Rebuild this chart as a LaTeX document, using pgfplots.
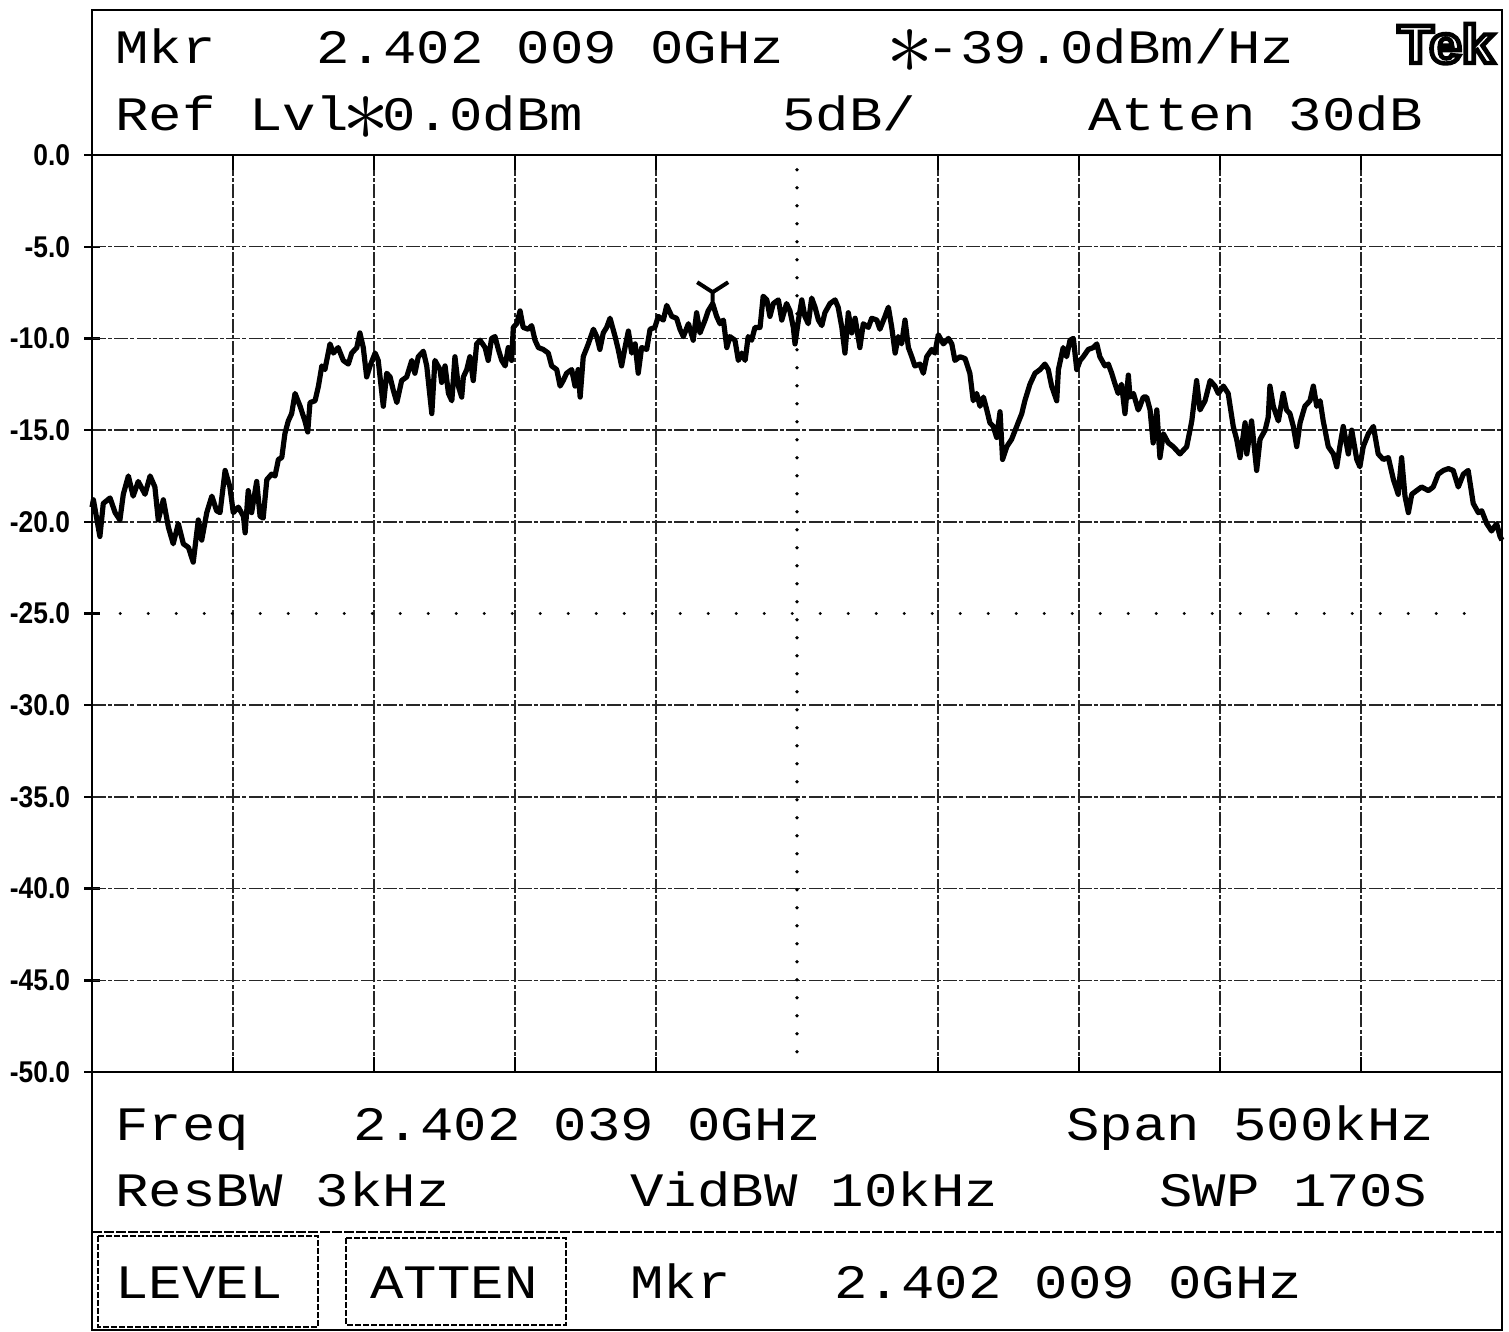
\documentclass[border=0pt]{standalone}
\usepackage{pgfplots}
\usepackage{pgfplotstable}
\pgfplotsset{compat=1.18}
\usepackage{graphicx}
\usepackage{fontspec}
\newfontfamily\tek[FakeStretch=1.16]{Liberation Mono}
\newfontfamily\ticklab[FakeStretch=0.88]{Liberation Sans}
\newfontfamily\logofont{Liberation Sans}
\newcommand\tekfont{\tek\fontsize{24pt}{24pt}\selectfont}
\newcommand\tast{\mbox{\phantom{M}\llap{\makebox[0.696em]{\raisebox{-0.2em}{\scalebox{1.9}{$\ast$}}}}}}

\pgfplotstableread{
f p
-250 -19.2
-249.5 -18.8
-247.2 -20.8
-246.0 -19.0
-243.6 -18.7
-241.8 -19.5
-240.1 -19.9
-238.9 -18.5
-237.1 -17.5
-235.4 -18.6
-233.6 -17.8
-231.2 -18.5
-229.4 -17.5
-227.7 -18.1
-226.5 -19.9
-224.7 -18.8
-222.9 -20.3
-221.2 -21.2
-219.4 -20.1
-217.6 -21.2
-215.8 -21.4
-214.1 -22.2
-212.3 -19.9
-211.1 -21.0
-209.3 -19.5
-207.5 -18.6
-205.8 -19.4
-204.6 -19.5
-202.8 -17.2
-201.1 -18.1
-199.9 -19.5
-198.1 -19.2
-196.3 -19.7
-195.7 -20.6
-194.6 -18.3
-193.4 -19.5
-191.6 -17.8
-190.4 -19.7
-189.3 -19.8
-188.0 -17.7
-186.3 -17.4
-185.1 -17.5
-183.9 -16.6
-182.7 -16.5
-181.6 -15.2
-180.4 -14.5
-179.2 -14.1
-178.0 -13.0
-176.2 -13.7
-174.5 -14.5
-173.5 -15.1
-172.7 -13.5
-170.9 -13.4
-169.7 -12.6
-168.5 -11.5
-167.4 -11.7
-165.6 -10.3
-164.4 -10.8
-162.7 -10.5
-160.9 -11.2
-159.1 -11.4
-157.9 -10.8
-156.1 -10.5
-155.0 -9.7
-153.8 -10.5
-152.6 -12.1
-151.4 -11.5
-149.6 -10.8
-148.5 -11.2
-146.7 -13.7
-145.5 -11.9
-144.3 -12.1
-143.2 -12.8
-141.9 -13.5
-140.2 -12.3
-138.4 -12.1
-136.6 -11.2
-135.5 -11.9
-134.3 -11.0
-132.5 -10.7
-131.3 -11.5
-129.5 -14.1
-128.4 -11.2
-126.6 -11.7
-126.0 -12.4
-124.8 -11.5
-123.6 -13.0
-122.4 -13.4
-121.3 -11.0
-120.1 -12.6
-118.9 -13.2
-118.3 -12.1
-117.1 -11.7
-116.0 -11.0
-114.8 -12.3
-113.6 -10.3
-112.4 -10.1
-110.6 -10.5
-109.5 -11.2
-108.3 -10.0
-107.1 -9.9
-105.9 -10.6
-104.7 -11.2
-103.5 -11.5
-102.4 -10.5
-101.2 -11.2
-100.6 -9.4
-99.4 -9.2
-98.2 -8.5
-97.1 -9.4
-95.3 -9.5
-94.1 -9.3
-92.9 -10.1
-91.7 -10.5
-90.0 -10.6
-88.2 -10.8
-87.0 -11.5
-85.2 -11.7
-84.0 -12.6
-82.9 -12.3
-81.7 -11.9
-79.9 -11.7
-78.7 -12.6
-77.6 -11.7
-76.9 -13.2
-75.8 -11.0
-74.0 -10.3
-72.2 -9.5
-71.0 -9.9
-69.9 -10.6
-68.7 -9.7
-67.5 -9.4
-66.3 -8.9
-64.5 -9.9
-63.4 -10.6
-62.2 -11.5
-61.0 -10.5
-59.8 -9.6
-58.6 -10.8
-57.4 -10.3
-56.3 -11.9
-55.1 -10.5
-53.3 -10.6
-52.1 -9.5
-50.4 -9.4
-49.2 -8.8
-47.4 -9.0
-46.2 -8.2
-44.4 -8.8
-42.7 -8.9
-41.5 -9.5
-40.3 -9.9
-38.5 -9.2
-36.8 -10.1
-35.6 -8.6
-34.4 -9.7
-32.6 -9.0
-31.5 -8.5
-29.9 -8.1
-28.5 -8.8
-27.3 -9.2
-26.1 -9.0
-24.9 -10.5
-23.8 -9.9
-22.0 -10.1
-20.8 -11.2
-19.6 -10.8
-18.4 -11.2
-17.3 -9.9
-16.1 -10.1
-14.9 -9.4
-13.1 -9.4
-12.0 -7.7
-10.7 -7.9
-9.6 -8.8
-8.4 -8.1
-6.6 -7.9
-5.4 -9.0
-3.7 -8.1
-2.5 -8.5
-1.3 -9.4
-0.7 -10.3
0.5 -9.0
1.7 -7.9
2.8 -8.8
4.0 -9.2
5.2 -7.8
6.4 -8.3
7.6 -9.0
8.8 -9.3
9.9 -8.6
11.7 -8.1
13.5 -7.9
14.6 -8.3
15.9 -9.4
17.0 -10.8
18.2 -8.6
19.4 -9.7
20.6 -8.9
22.3 -10.5
23.5 -9.2
25.3 -9.4
26.5 -8.9
28.3 -9.0
29.4 -9.5
31.2 -8.8
32.4 -8.3
33.6 -9.4
34.8 -10.8
35.9 -9.9
37.1 -10.3
38.3 -9.0
39.5 -10.5
40.7 -11.0
41.8 -11.5
43.6 -11.4
44.8 -11.9
46.0 -11.0
47.8 -10.6
48.9 -10.8
50.1 -9.8
51.9 -10.3
53.7 -10.0
54.9 -10.3
56.0 -11.2
57.8 -11.0
59.6 -11.1
61.3 -11.9
62.5 -13.4
63.7 -13.0
64.9 -13.7
66.1 -13.2
67.3 -13.9
68.4 -14.6
69.6 -14.8
70.8 -15.4
72.0 -14.0
72.9 -16.6
74.4 -15.9
76.1 -15.5
77.9 -14.8
79.7 -14.1
80.8 -13.4
82.6 -12.5
84.4 -11.9
86.2 -11.7
87.9 -11.4
89.1 -11.7
90.3 -12.6
92.1 -13.4
92.7 -11.7
94.4 -10.5
95.6 -11.0
96.8 -10.1
98.0 -10.0
99.2 -11.7
100.4 -11.2
101.5 -11.0
103.3 -10.6
105.1 -10.5
106.3 -10.3
107.4 -11.0
109.2 -11.5
110.4 -11.4
111.6 -11.9
112.8 -12.5
113.9 -13.0
115.1 -12.5
116.3 -14.1
117.5 -12.0
118.1 -13.2
119.3 -13.0
121.0 -13.9
121.6 -13.7
122.8 -13.2
124.0 -13.2
125.2 -13.9
126.3 -15.7
127.6 -13.9
128.7 -16.5
129.9 -15.2
131.7 -15.7
133.4 -15.9
135.8 -16.3
138.2 -15.9
140.0 -14.5
141.7 -12.3
142.9 -13.9
144.7 -13.4
146.5 -12.3
148.2 -12.6
149.4 -13.0
151.2 -12.6
152.9 -13.0
154.7 -14.8
155.9 -15.5
157.1 -16.5
158.9 -14.6
159.5 -16.3
161.2 -14.5
163.0 -17.2
164.2 -15.5
166.0 -15.0
167.1 -14.3
167.7 -12.6
168.9 -13.7
170.7 -14.5
172.4 -13.0
173.6 -13.9
174.8 -14.1
176.0 -14.8
177.2 -15.9
178.4 -14.6
180.1 -13.7
181.9 -13.4
183.1 -12.6
184.3 -13.7
185.5 -13.4
186.6 -14.5
188.4 -15.9
190.2 -16.3
191.4 -17.0
192.5 -15.9
193.7 -14.8
195.5 -16.3
196.7 -15.0
198.5 -16.6
199.6 -17.0
200.8 -15.9
202.6 -15.2
204.4 -14.8
206.1 -16.3
207.9 -16.6
209.7 -16.5
211.5 -17.7
213.2 -18.5
214.4 -16.5
215.6 -18.6
216.8 -19.5
218.0 -18.5
219.7 -18.3
221.5 -18.1
223.9 -18.3
225.6 -18.1
227.4 -17.4
229.2 -17.2
231.0 -17.1
232.7 -17.2
234.5 -18.1
236.3 -17.4
238.0 -17.2
239.8 -19.0
241.6 -19.5
242.8 -19.4
244.6 -20.1
246.3 -20.5
248.1 -20.1
249.3 -20.8
250.0 -21.0
}\trace

\pgfdeclareplotmark{tekmkr}{%
  \pgfpathmoveto{\pgfpoint{0pt}{0pt}}%
  \pgfpathlineto{\pgfpoint{0pt}{7.5pt}}%
  \pgfpathlineto{\pgfpoint{-7.75pt}{12.5pt}}%
  \pgfpathmoveto{\pgfpoint{0pt}{7.5pt}}%
  \pgfpathlineto{\pgfpoint{7.75pt}{12.5pt}}%
  \pgfusepathqstroke}

\tikzset{
  gridline/.style={black!85, line width=0.75pt, dash pattern=on 7pt off 1pt on 2pt off 1.2pt},
  dotv/.style={black, line width=1.9pt, line cap=round, dash pattern=on 0pt off 9pt},
  doth/.style={black, line width=1.6pt, line cap=round, dash pattern=on 0pt off 14pt},
  tk/.style={black, line width=1.2pt}
}

\begin{document}
\begin{tikzpicture}
\begin{axis}[
  at={(46pt,-536pt)}, anchor=south west,
  scale only axis, width=705pt, height=458.5pt,
  xmin=-250, xmax=250, ymin=-50, ymax=0,
  axis line style={black, line width=1.2pt},
  xtick=\empty,
  ytick={-50,-45,...,0},
  yticklabels={-50.0,-45.0,-40.0,-35.0,-30.0,-25.0,-20.0,-15.0,-10.0,-5.0,0.0},
  ytick pos=left,
  tick align=center,
  major tick length=7.5pt,
  tick style={black, line width=1.2pt},
  yticklabel style={font=\ticklab\bfseries\fontsize{15pt}{15pt}\selectfont, inner sep=0pt, anchor=east, xshift=-7pt},
  clip=false,
]
\pgfplotsinvokeforeach{-200,-150,-100,-50,50,100,150,200}{
  \draw[gridline] (axis cs:#1,-50) -- (axis cs:#1,0);
  \draw[tk] (axis cs:#1,0) -- (axis cs:#1,-0.8);
  \draw[tk] (axis cs:#1,-50) -- (axis cs:#1,-49.2);
}
\pgfplotsinvokeforeach{-45,-40,-35,-30,-20,-15,-10,-5}{
  \draw[gridline] (axis cs:-250,#1) -- (axis cs:250,#1);
}
\draw[dotv] (axis cs:0,-0.8) -- (axis cs:0,-49.2);
\draw[doth] (axis cs:-240,-25) -- (axis cs:243,-25);
\addplot[black, line width=2.6pt, line join=round, no marks] table[x=f, y=p] {\trace};
\addplot[only marks, mark=tekmkr, mark options={line width=2pt, black}] coordinates {(-29.9,-8.3)};
\end{axis}
\begin{scope}[x=0.5pt, y=-0.5pt]
\path (0,0) rectangle (1509,1331);
\draw[black, line width=1.3pt] (92,10) rectangle (1502,1330);
\draw[black, line width=0.8pt, dash pattern=on 5pt off 1pt] (92,1232) -- (1502,1232);
\draw[black, line width=0.6pt, dash pattern=on 3pt off 1pt] (98,1236) rectangle (318,1327);
\draw[black, line width=0.6pt, dash pattern=on 3pt off 1pt] (346,1238) rectangle (566,1325);
\tikzset{every node/.style={inner sep=0pt, anchor=base west, font=\tekfont}}
\node at (115,64) {Mkr};
\node at (316,64) {2.402 009 0GHz};
\node at (893,64) {\tast-39.0dBm/Hz};
\node at (115,131) {Ref Lvl\tast0.0dBm};
\node at (782,131) {5dB/};
\node at (1088,131) {Atten 30dB};
\node at (115,1140) {Freq};
\node at (353,1140) {2.402 039 0GHz};
\node at (1066,1140) {Span 500kHz};
\node at (115,1206) {ResBW 3kHz};
\node at (630,1206) {VidBW 10kHz};
\node at (1159,1206) {SWP 170S};
\node at (115,1298) {LEVEL};
\node at (370,1298) {ATTEN};
\node at (630,1298) {Mkr};
\node at (834,1298) {2.402 009 0GHz};
\node[anchor=base, font=\logofont\bfseries\fontsize{27pt}{27pt}\selectfont] at (1446,63) {\scalebox{1.08}[1]{\special{pdf:literal direct 1 Tr 2.2 w}Tek\special{pdf:literal direct 0 Tr 1 w}}};
\end{scope}
\end{tikzpicture}
\end{document}
